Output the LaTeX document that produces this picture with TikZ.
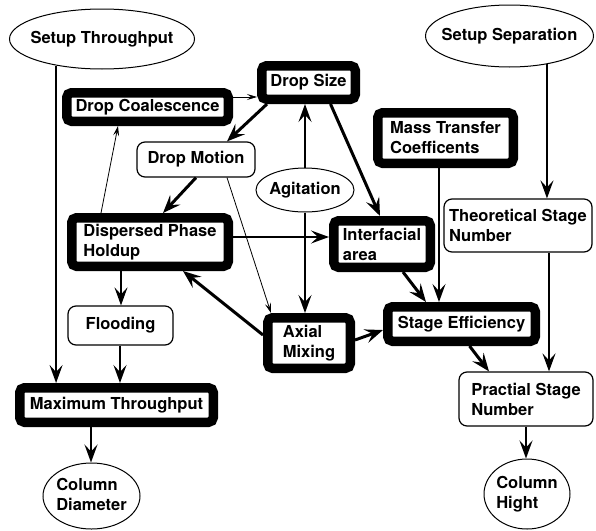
\documentclass[tikz,border=0pt]{standalone}
\usepackage{fontspec}
\setmainfont{TeX Gyre Heros}
\usetikzlibrary{shapes.geometric,arrows.meta,calc}
\newcommand\ztext[1]{\makebox[0pt]{\begin{tabular}{@{}l@{}}#1\end{tabular}}}
\begin{document}
\begin{tikzpicture}[x=1pt,y=-1pt,
  every node/.style={font=\fontsize{16.5}{20}\selectfont\bfseries, align=left},
  thickbox/.style={draw, line width=9.5pt, rounded corners=4.75pt, inner sep=0pt, outer sep=4.75pt},
  thinbox/.style={draw, line width=1.2pt, rounded corners=8pt, inner sep=0pt},
  oval/.style={draw, ellipse, line width=1pt, inner sep=0pt},
  arrM/.style={line width=1.8pt, -{Stealth[length=18pt,width=13pt,inset=7pt]}},
  arrT/.style={line width=3pt, -{Stealth[length=18pt,width=14pt,inset=7pt]}},
  arrS/.style={line width=0.8pt, -{Stealth[length=10pt,width=6pt,inset=4pt]}}]
\fill[white] (0,0) rectangle (596,530);
\useasboundingbox (0,0) rectangle (596,530);

% ellipses
\node[oval, minimum width=185pt, minimum height=60pt] (stp) at (102,39) {\ztext{Setup Throughput}};
\node[oval, minimum width=168pt, minimum height=62pt] (ssp) at (509.5,36) {\ztext{Setup Separation}};
\node[oval, minimum width=98pt, minimum height=44pt] (ag) at (305,190) {\ztext{Agitation}};
\node[oval, minimum width=97pt, minimum height=66pt] (cd) at (91.5,496) {\ztext{Column\\Diameter}};
\node[oval, minimum width=86pt, minimum height=70pt] (ch) at (527,494) {\ztext{Column\\Hight}};

% thick boxes
\node[thickbox, minimum width=161.5pt, minimum height=28.5pt] (dc) at (147.5,107) {Drop Coalescence};
\node[thickbox, minimum width=93.5pt, minimum height=33.5pt] (ds) at (308.5,82.5) {Drop Size};
\node[thickbox, minimum width=135.5pt, minimum height=50.5pt] (mtc) at (445.5,138) {Mass Transfer\\Coefficents};
\node[thickbox, minimum width=156.5pt, minimum height=48.5pt] (dph) at (150,242) {Dispersed Phase\\Holdup};
\node[thickbox, minimum width=96.5pt, minimum height=46.5pt] (ia) at (382,244) {Interfacial\\area};
\node[thickbox, minimum width=82.5pt, minimum height=50.5pt] (am) at (309,343) {Axial\\Mixing};
\node[thickbox, minimum width=147.5pt, minimum height=34.5pt] (se) at (461.5,324) {Stage Efficiency};
\node[thickbox, minimum width=193.5pt, minimum height=34.5pt] (mt) at (116.5,405) {Maximum Throughput};

% thin boxes
\node[thinbox, minimum width=118pt, minimum height=35pt] (dm) at (196,159.5) {Drop Motion};
\node[thinbox, minimum width=148pt, minimum height=53pt] (tsn) at (518,225.5) {Theoretical Stage\\Number};
\node[thinbox, minimum width=105pt, minimum height=39pt] (fl) at (120.5,325.5) {Flooding};
\node[thinbox, minimum width=134pt, minimum height=54pt] (psn) at (526,399) {Practial Stage\\Number};

% connectors
\draw[arrM] (stp.210) -- (stp.210 |- mt.north);
\draw[arrS] ([yshift=10pt]dc.east) -- ([yshift=10pt]dc.east -| ds.west);
\draw[arrT] ([xshift=10pt]ds.south west) -- ([xshift=31pt]dm.north);
\draw[arrS] ([xshift=-49pt]dph.north) -- ([xshift=-29.5pt]dc.south);
\draw[arrT] (dm.south) -- ([xshift=13pt]dph.north);
\draw[arrS] ([xshift=31pt]dm.south) -- ([xshift=-38pt]am.north);
\draw[arrM] (ag.north) -- (ag.north |- ds.south);
\draw[arrM] (ag.south) -- (ag.south |- am.north);
\draw[arrT] ([xshift=22pt]ds.south) -- ([xshift=-2pt]ia.north);
\draw[arrM] ([yshift=5pt]dph.east) -- ([yshift=5pt]dph.east -| ia.west);
\draw[arrM] ([xshift=-6.5pt]mtc.south) -- ([xshift=-6.5pt]mtc.south |- se.north);
\draw[arrT] ([xshift=21pt]ia.south) -- ([xshift=-35.5pt]se.north);
\draw[arrT] ([yshift=8pt]am.west) -- ([xshift=33pt]dph.south);
\draw[arrT] ([yshift=3pt]am.east) -- ([yshift=-6pt]se.west);
\draw[arrM] (ssp.323) -- (ssp.323 |- tsn.north);
\draw[arrM] ([xshift=31pt]tsn.south) -- ([xshift=31pt]tsn.south |- psn.north);
\draw[arrT] ([xshift=8pt]se.south) -- ([xshift=-37pt]psn.north);
\draw[arrM] ([xshift=-29pt]dph.south) -- ([xshift=-29pt]dph.south |- fl.north);
\draw[arrM] ([xshift=-0.5pt]fl.south) -- ([xshift=-0.5pt]fl.south |- mt.north);
\draw[arrM] ([xshift=-25.5pt]mt.south) -- ([xshift=-25.5pt]mt.south |- cd.north);
\draw[arrM] (psn.south) -- (psn.south |- ch.north);
\end{tikzpicture}
\end{document}
